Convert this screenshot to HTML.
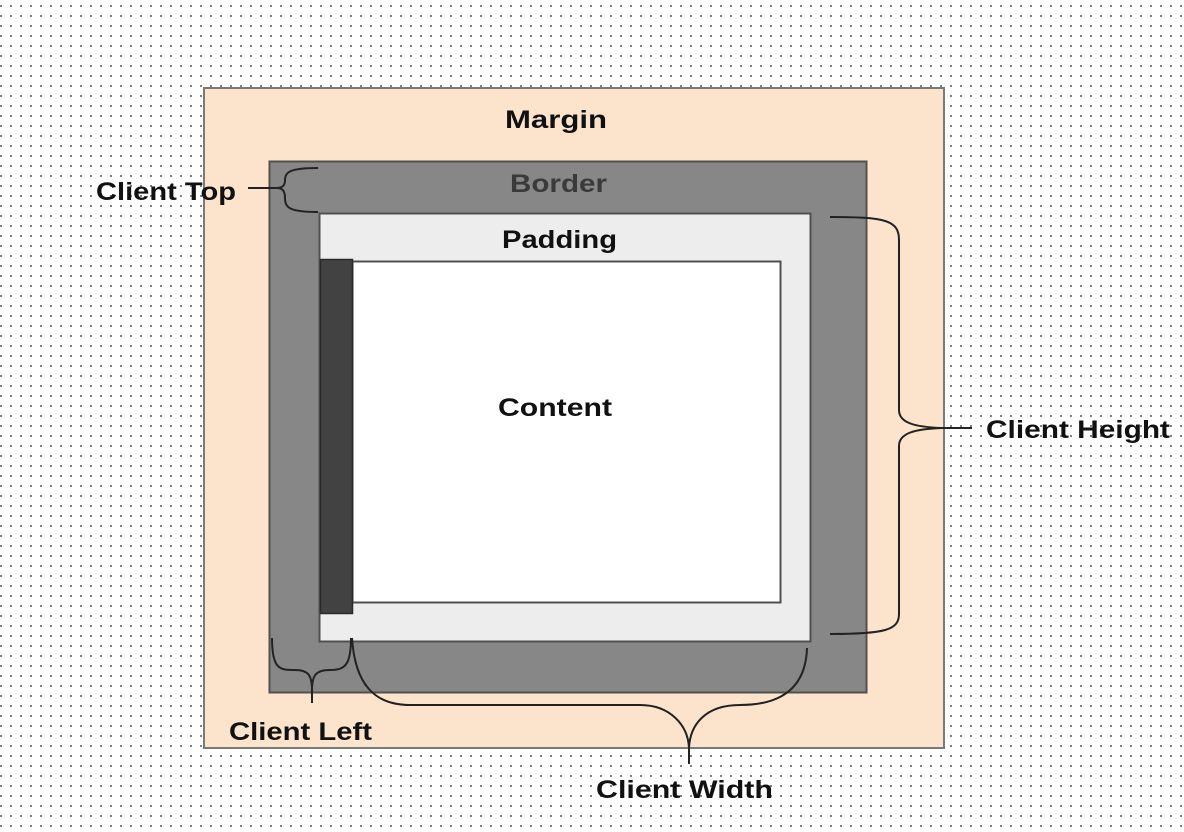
<!DOCTYPE html>
<html><head><meta charset="utf-8"><style>
html,body{margin:0;padding:0;background:#fff;}
svg{display:block;}
text{font-family:"Liberation Sans",sans-serif;font-weight:bold;}
</style></head><body>
<svg width="1184" height="832" viewBox="0 0 1184 832" xmlns="http://www.w3.org/2000/svg">
<defs>
<pattern id="dots" x="0" y="5" width="10" height="10" patternUnits="userSpaceOnUse">
<rect x="0" y="0" width="2" height="2" fill="#808080"/>
</pattern>
</defs>
<rect width="1184" height="832" fill="#fff"/>
<rect width="1184" height="832" fill="url(#dots)"/>
<rect x="204" y="88" width="740" height="660" fill="#fce4cc" stroke="#7a7a7a" stroke-width="2"/>
<rect x="269.5" y="161.5" width="597" height="531" fill="#878787" stroke="#505050" stroke-width="2"/>
<rect x="319.5" y="213.5" width="491" height="428" fill="#ededed" stroke="#505050" stroke-width="2"/>
<rect x="352.5" y="261.5" width="428" height="341" fill="#fff" stroke="#505050" stroke-width="2"/>
<rect x="320.5" y="259.5" width="32" height="354" fill="#424242" stroke="#2a2a2a" stroke-width="1.5"/>
<g fill="none" stroke="#222" stroke-width="2">
<!-- client top -->
<path d="M318 168 C290 168 285 172 285 180 C285 186 282 188 276 188 C282 188 285 190 285 198 C285 208 290 212 318 212"/>
<path d="M248 188 L276 188"/>
<!-- client height -->
<path d="M830 217 C885 217 899 220 899 240 L899 410 C899 423 915 427 942 428 C915 429 899 433 899 446 L899 614 C899 630 885 634 830 634"/>
<path d="M942 428 L972 428"/>
<!-- client left -->
<path d="M272 638 C272 670 280 670 295 670 C308 670 312 675 312 690 C312 675 316 670 330 670 C345 670 351 665 351 638"/>
<path d="M312 690 L312 703"/>
<!-- client width -->
<path d="M352 638 C355 685 375 705 410 705 L640 705 C670 705 688 725 689 748 C690 725 705 705 740 705 C790 705 806 680 807 648"/>
<path d="M689 748 L689 764"/>
</g>
<g font-size="25" fill="#111">
<text x="505" y="128" textLength="102" lengthAdjust="spacingAndGlyphs">Margin</text>
<text x="510" y="192" textLength="97" lengthAdjust="spacingAndGlyphs" fill="#3a3a3a">Border</text>
<text x="502" y="248" textLength="115" lengthAdjust="spacingAndGlyphs">Padding</text>
<text x="498" y="416" textLength="114" lengthAdjust="spacingAndGlyphs">Content</text>
<text x="96" y="200" textLength="140" lengthAdjust="spacingAndGlyphs">Client Top</text>
<text x="986" y="438" textLength="184" lengthAdjust="spacingAndGlyphs">Client Height</text>
<text x="229" y="740" textLength="143" lengthAdjust="spacingAndGlyphs">Client Left</text>
<text x="596" y="798" textLength="177" lengthAdjust="spacingAndGlyphs">Client Width</text>
</g>
</svg>
</body></html>
